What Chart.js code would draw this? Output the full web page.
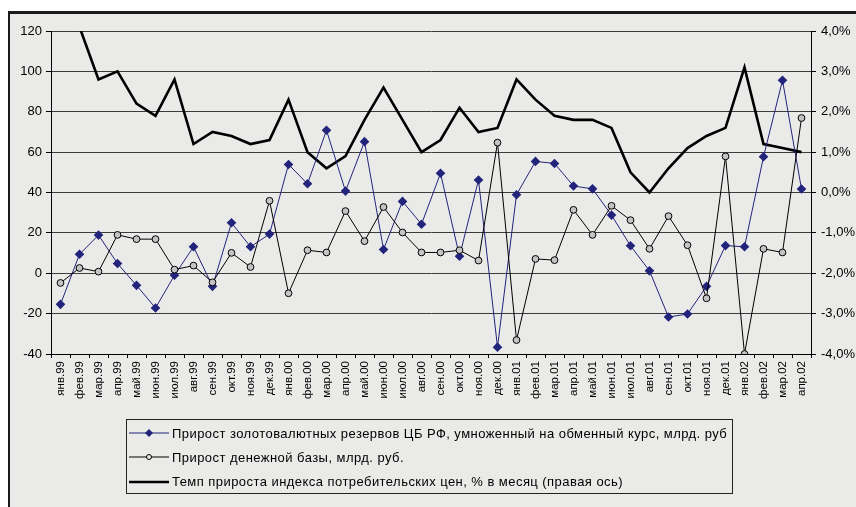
<!DOCTYPE html>
<html>
<head>
<meta charset="utf-8">
<title>Резервы, денежная база и инфляция</title>
<script src="https://cdn.jsdelivr.net/npm/chart.js@4.4.0/dist/chart.umd.min.js"></script>
<style>
  html, body { margin: 0; width: 856px; height: 507px; overflow: hidden; background: #fff; font-family: "Liberation Sans", Arial, sans-serif; }
  #panel {
    position: absolute; left: 8px; top: 11px; width: 850px; height: 500px;
    background-color: #eaeae9; border-left: 2px solid #1a1a1a; border-top: 3px solid #1a1a1a;
  }
  #wrap { position: absolute; left: 0; top: 0; width: 856px; height: 507px; }
  #legend {
    position: absolute; left: 126px; top: 419px; width: 607px; height: 75px;
    border: 1px solid #222; box-sizing: border-box; padding-top: 1px;
  }
  .row { height: 24.3px; display: flex; align-items: center; font-size: 13px; letter-spacing: 0.45px; color: #000; white-space: nowrap; }
  .row svg { margin-left: 2px; margin-right: 3px; }
</style>
</head>
<body>
<div id="panel"></div>
<div id="wrap"><canvas id="myCanvas" width="856" height="507"></canvas></div>
<div id="legend"></div>

<script>
var months = ['янв.99','фев.99','мар.99','апр.99','май.99','июн.99','июл.99','авг.99','сен.99','окт.99','ноя.99','дек.99',
              'янв.00','фев.00','мар.00','апр.00','май.00','июн.00','июл.00','авг.00','сен.00','окт.00','ноя.00','дек.00',
              'янв.01','фев.01','мар.01','апр.01','май.01','июн.01','июл.01','авг.01','сен.01','окт.01','ноя.01','дек.01',
              'янв.02','фев.02','мар.02','апр.02'];

// прирост резервов * курс, млрд. руб
var reserves = [-15.4, 9.4, 18.9, 4.8, -6.0, -17.2, -1.0, 13.1, -6.5, 25.0, 13.1, 19.4,
                53.9, 44.3, 70.8, 40.7, 65.2, 11.8, 35.6, 24.3, 49.5, 8.4, 46.2, -36.6,
                38.9, 55.4, 54.4, 43.2, 41.8, 28.8, 13.6, 1.2, -21.7, -20.2, -6.5, 13.7,
                13.1, 57.7, 95.6, 41.7];

// прирост денежной базы, млрд. руб
var moneyBase = [-4.8, 2.6, 0.8, 19.0, 16.9, 16.9, 1.8, 3.8, -4.5, 10.1, 3.1, 35.9,
                 -9.9, 11.4, 10.3, 30.8, 15.9, 32.8, 20.2, 10.3, 10.3, 11.4, 6.3, 64.7,
                 -33.1, 7.1, 6.5, 31.4, 19.0, 33.4, 26.3, 12.1, 28.3, 13.9, -12.4, 57.9,
                 -40.0, 12.1, 10.3, 76.9];

// инфляция, % в месяц (правая ось)
var cpi = [8.4, 4.1, 2.8, 3.0, 2.2, 1.9, 2.8, 1.2, 1.5, 1.4, 1.2, 1.3,
           2.3, 1.0, 0.6, 0.9, 1.8, 2.6, 1.8, 1.0, 1.3, 2.1, 1.5, 1.6,
           2.8, 2.3, 1.9, 1.8, 1.8, 1.6, 0.5, 0.0, 0.6, 1.1, 1.4, 1.6,
           3.1, 1.2, 1.1, 1.0];

var seriesNames = ['Прирост золотовалютных резервов ЦБ РФ, умноженный на обменный курс, млрд. руб',
                   'Прирост денежной базы, млрд. руб.',
                   'Темп прироста индекса потребительских цен, % в месяц (правая ось)'];

var navy = '#22237a';
var font = { family: '"Liberation Sans", Arial, sans-serif', size: 13 };

new Chart(document.getElementById('myCanvas'), {
  type: 'line',
  data: {
    labels: months,
    datasets: [
      { label: seriesNames[0], data: reserves, yAxisID: 'y',
        borderColor: navy, backgroundColor: navy, borderWidth: 1,
        pointStyle: 'rectRot', pointRadius: 4.8, pointBorderWidth: 0, tension: 0, order: 2 },
      { label: seriesNames[1], data: moneyBase, yAxisID: 'y',
        borderColor: '#000', backgroundColor: '#c4c4c4', borderWidth: 1,
        pointStyle: 'circle', pointRadius: 3.4, pointBorderWidth: 1, tension: 0, order: 1 },
      { label: seriesNames[2], data: cpi, yAxisID: 'y1',
        borderColor: '#000', borderWidth: 2.6, pointRadius: 0, tension: 0, clip: 0, order: 3 }
    ]
  },
  options: {
    responsive: false,
    animation: false,
    layout: { padding: { top: 31, left: 0, right: 0, bottom: 0 } },
    plugins: { legend: { display: false }, tooltip: { enabled: false } },
    scales: {
      x: {
        offset: true,
        grid: { offset: true, drawOnChartArea: false, drawTicks: true, tickLength: 4, tickColor: '#000' },
        border: { display: true, color: '#000', width: 1 },
        ticks: { autoSkip: false, minRotation: 90, maxRotation: 90, padding: 3, color: '#000',
                 font: { family: font.family, size: 11.5 } },
        afterFit: function(s) { s.height = 153; }
      },
      y: {
        position: 'left', min: -40, max: 120,
        ticks: { stepSize: 20, padding: 4, color: '#000', font: font },
        grid: { color: '#3c3c3c', tickColor: '#000', tickLength: 5, lineWidth: 1 },
        border: { display: true, color: '#000', width: 1 },
        afterFit: function(s) { s.width = 51; }
      },
      y1: {
        position: 'right', min: -4, max: 4,
        ticks: { stepSize: 1, padding: 5, color: '#000', font: font,
                 callback: function(v) { return v.toFixed(1).replace('.', ',') + '%'; } },
        grid: { drawOnChartArea: false, tickColor: '#000', tickLength: 5 },
        border: { display: true, color: '#000', width: 1 },
        afterFit: function(s) { s.width = 45; }
      }
    }
  }
});

// legend rows built from the series names
var symbols = [
  '<svg width="40" height="10"><line x1="0" y1="5" x2="40" y2="5" stroke="' + navy + '" stroke-width="1"/>' +
    '<polygon points="20,1 24,5 20,9 16,5" fill="' + navy + '"/></svg>',
  '<svg width="40" height="10"><line x1="0" y1="5" x2="40" y2="5" stroke="#000" stroke-width="1"/>' +
    '<circle cx="20" cy="5" r="2.5" fill="#eaeae9" stroke="#000" stroke-width="1"/></svg>',
  '<svg width="40" height="10"><line x1="0" y1="5" x2="40" y2="5" stroke="#000" stroke-width="2.5"/></svg>'
];
var legend = document.getElementById('legend');
seriesNames.forEach(function(name, i) {
  var row = document.createElement('div');
  row.className = 'row';
  row.innerHTML = symbols[i] + '<span>' + name + '</span>';
  legend.appendChild(row);
});
</script>
</body>
</html>
